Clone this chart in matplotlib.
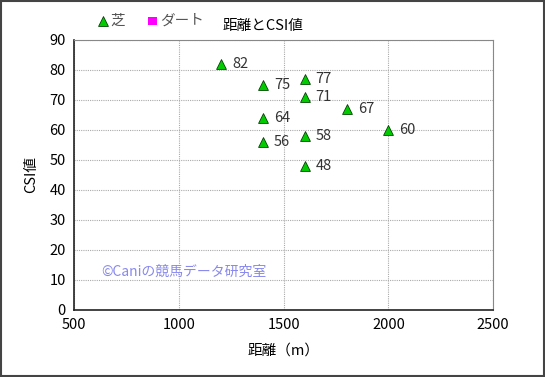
import matplotlib
matplotlib.use("Agg")
import matplotlib.pyplot as plt
from matplotlib.patches import Rectangle

plt.rcParams["font.family"] = ["Noto Sans CJK JP", "DejaVu Sans"]

# 芝 data: distance (m) and CSI value
turf_dist = [1200, 1400, 1400, 1400, 1600, 1600, 1600, 1600, 1800, 2000]
turf_csi = [82, 75, 64, 56, 77, 71, 58, 48, 67, 60]
# ダート has no points in this chart
dirt_dist = []
dirt_csi = []

xticks = [500, 1000, 1500, 2000, 2500]
yticks = list(range(0, 91, 10))

fig = plt.figure(figsize=(5.45, 3.77), dpi=100)
fig.patches.append(Rectangle((0.002, 0.003), 0.996, 0.994, transform=fig.transFigure,
                             fill=False, edgecolor="#444444", linewidth=1.5))
ax = fig.add_axes([0.136, 0.178, 0.769, 0.716])

ax.scatter(turf_dist, turf_csi, marker="^", s=50, color="#00cc00",
           edgecolor="#004400", linewidth=0.6, zorder=3, label="芝")
ax.scatter(dirt_dist, dirt_csi, marker="s", s=40, color="#ff00ff",
           edgecolor="none", zorder=3, label="ダート")

for x, y in zip(turf_dist, turf_csi):
    ax.annotate(str(y), (x, y), xytext=(8, 0), textcoords="offset points",
                fontsize=10.5, color="#333333", va="center")

ax.set_xlim(500, 2500)
ax.set_ylim(0, 90)
ax.set_xticks(xticks)
ax.set_yticks(yticks)
ax.tick_params(length=0, labelsize=10.5, pad=6)
ax.grid(True, linestyle=(0, (1, 1)), color="#aaaaaa", linewidth=0.8)
for side in ["top", "right"]:
    ax.spines[side].set_color("#888888")
for side in ["left", "bottom"]:
    ax.spines[side].set_color("#222222")
    ax.spines[side].set_linewidth(1.2)

ax.set_xlabel("距離（m）", fontsize=10.5, labelpad=8)
ax.set_ylabel("CSI値", fontsize=10.5, labelpad=8)

fig.text(0.483, 0.932, "距離とCSI値", fontsize=10.5, ha="center", va="center")
ax.text(0.065, 0.14, "©Caniの競馬データ研究室", transform=ax.transAxes,
        fontsize=10, color="#8888ee", va="center")

fig.legend(loc="center left", bbox_to_anchor=(0.152, 0.945), ncol=2, frameon=False,
           fontsize=10.5, handletextpad=0.0, columnspacing=1.4, markerscale=1.0,
           handlelength=1.0, labelcolor="#555555")

fig.savefig("out.png", dpi=100)
